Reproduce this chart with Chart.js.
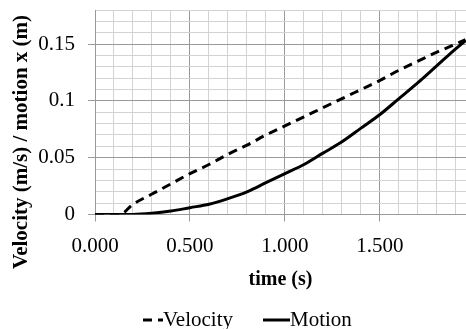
<!DOCTYPE html>
<html><head><meta charset="utf-8">
<script src="https://cdn.jsdelivr.net/npm/chart.js@4/dist/chart.umd.min.js"></script>
<style>html,body{margin:0;padding:0;background:#fff}#wrap{width:466px;height:329px;position:relative}</style>
</head><body><div id="wrap"><canvas id="c" width="466" height="329"></canvas></div>
<script>
const timeValues     = [0, 0.1, 0.13, 0.2, 0.3, 0.4, 0.5, 0.6, 0.7, 0.8, 0.9, 1.0, 1.1, 1.2, 1.3, 1.4, 1.5, 1.6, 1.7, 1.8, 1.9, 1.95];
const velocityValues = [0, 0, 0, 0.009, 0.018, 0.027, 0.036, 0.044, 0.053, 0.061, 0.070, 0.078, 0.086, 0.094, 0.102, 0.110, 0.118, 0.127, 0.135, 0.143, 0.150, 0.154];
const motionValues   = [0, 0, 0, 0, 0.001, 0.003, 0.006, 0.009, 0.014, 0.020, 0.028, 0.036, 0.044, 0.054, 0.064, 0.076, 0.088, 0.102, 0.116, 0.131, 0.146, 0.153];
const seriesLabels = ['Velocity', 'Motion'];
const xTickLabels = ['0.000', '0.500', '1.000', '1.500'];
const yTickLabels = ['0', '0.05', '0.1', '0.15'];
const xAxisTitle = 'time (s)';
const yAxisTitle = 'Velocity (m/s) / motion x (m)';

const FONT = "'Liberation Serif', 'Times New Roman', serif";
const MAJOR = '#9a9a9a', MINOR = '#d3d3d3';

function pts(vals) { return timeValues.map((t, i) => ({x: t, y: vals[i]})); }

const extraPlugin = {
  id: 'extras',
  afterDraw(chart) {
    const ctx = chart.ctx;
    ctx.save();
    ctx.fillStyle = '#000';
    ctx.font = 'bold 21px ' + FONT;
    ctx.textAlign = 'center';
    ctx.textBaseline = 'middle';
    ctx.translate(22, 142);
    ctx.rotate(-Math.PI / 2);
    ctx.fillText(yAxisTitle, 0, 0);
    ctx.restore();

    ctx.save();
    ctx.font = '21px ' + FONT;
    ctx.textBaseline = 'middle';
    ctx.textAlign = 'left';
    const y = 320;
    const sampleX = [143, 263];
    const sampleW = [20, 27];
    chart.data.datasets.forEach((ds, i) => {
      const x = sampleX[i];
      ctx.strokeStyle = ds.borderColor;
      ctx.lineWidth = 3;
      ctx.setLineDash(ds.borderDash || []);
      ctx.beginPath();
      ctx.moveTo(x, y);
      ctx.lineTo(x + sampleW[i], y);
      ctx.stroke();
      ctx.setLineDash([]);
      ctx.fillStyle = '#000';
      ctx.fillText(ds.label, x + sampleW[i], y);
    });
    ctx.restore();
  }
};

new Chart(document.getElementById('c'), {
  type: 'line',
  data: {
    datasets: [
      {label: seriesLabels[0], data: pts(velocityValues), borderColor: '#000', borderWidth: 3, borderDash: [9, 6], pointRadius: 0, fill: false, cubicInterpolationMode: 'monotone'},
      {label: seriesLabels[1], data: pts(motionValues), borderColor: '#000', borderWidth: 3, pointRadius: 0, fill: false, cubicInterpolationMode: 'monotone'}
    ]
  },
  options: {
    responsive: false,
    devicePixelRatio: 1,
    animation: false,
    layout: {padding: {top: 10, left: 0, right: 0, bottom: 37}},
    plugins: {legend: {display: false}, tooltip: {enabled: false}},
    scales: {
      x: {
        type: 'linear', min: 0, max: 1.953,
        afterBuildTicks(s) { const t = []; for (let i = 0; i <= 19; i++) t.push({value: i / 10}); s.ticks = t; },
        afterFit(s) { s.height = 77.5; s.paddingLeft = 0; s.paddingRight = 0; },
        ticks: {autoSkip: false, maxRotation: 0, minRotation: 0, padding: 12, color: '#000', font: {family: FONT, size: 21},
          callback(v, i) { return i % 5 === 0 ? xTickLabels[i / 5] : ''; }},
        grid: {color: c => (c.index % 5 === 0 ? MAJOR : MINOR), tickColor: c => (c.index % 5 === 0 ? MAJOR : 'rgba(0,0,0,0)'), tickLength: 7, lineWidth: 1},
        border: {color: MAJOR, width: 1},
        title: {display: true, text: xAxisTitle, color: '#000', font: {family: FONT, size: 20, weight: 'bold'}, padding: {top: 0, bottom: 0}}
      },
      y: {
        type: 'linear', min: 0, max: 0.18,
        afterBuildTicks(s) { const t = []; for (let i = 0; i <= 18; i++) t.push({value: i / 100}); s.ticks = t; },
        afterFit(s) { s.width = 95; s.paddingTop = 0; s.paddingBottom = 0; },
        ticks: {autoSkip: false, padding: 13, color: '#000', font: {family: FONT, size: 21},
          callback(v, i) { return i % 5 === 0 ? yTickLabels[i / 5] : ''; }},
        grid: {color: c => (c.index % 5 === 0 ? MAJOR : MINOR), tickColor: c => (c.index % 5 === 0 ? MAJOR : 'rgba(0,0,0,0)'), tickLength: 7, lineWidth: 1},
        border: {color: MAJOR, width: 1}
      }
    }
  },
  plugins: [extraPlugin]
});
</script></body></html>
